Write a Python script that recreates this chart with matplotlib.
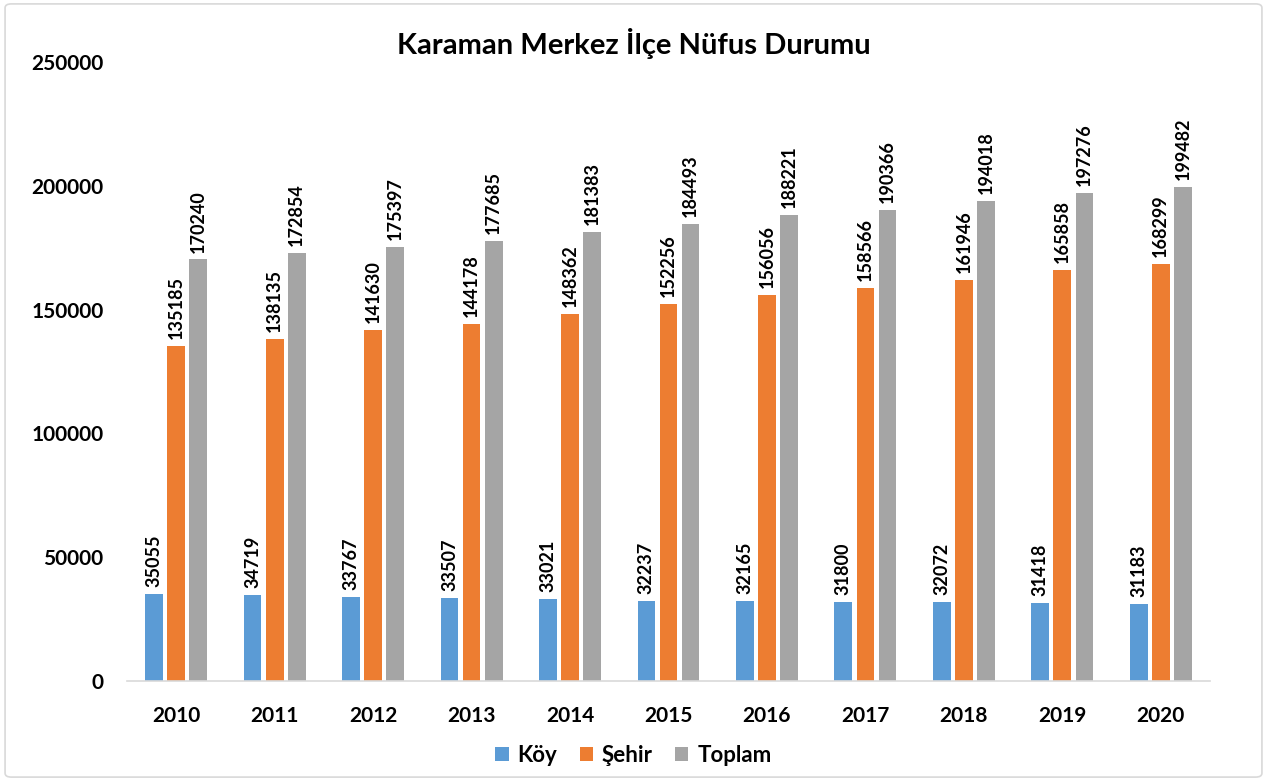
import matplotlib
matplotlib.use("Agg")
import matplotlib.pyplot as plt
from matplotlib.patches import FancyBboxPatch
import numpy as np

years = ["2010", "2011", "2012", "2013", "2014", "2015", "2016", "2017", "2018", "2019", "2020"]
koy = [35055, 34719, 33767, 33507, 33021, 32237, 32165, 31800, 32072, 31418, 31183]
sehir = [135185, 138135, 141630, 144178, 148362, 152256, 156056, 158566, 161946, 165858, 168299]
toplam = [170240, 172854, 175397, 177685, 181383, 184493, 188221, 190366, 194018, 197276, 199482]
series_names = ["Köy", "Şehir", "Toplam"]
colors = ["#5B9BD5", "#ED7D31", "#A5A5A5"]

plt.rcParams['font.family'] = ['Lato', 'DejaVu Sans']
plt.rcParams['font.weight'] = 'bold'

fig = plt.figure(figsize=(12.67, 7.81), dpi=100)
border = FancyBboxPatch((0.004, 0.005), 0.992, 0.99, boxstyle="round,pad=0,rounding_size=0.005",
                        transform=fig.transFigure, fill=False, edgecolor="#D9D9D9", linewidth=1.2)
fig.patches.append(border)

ax = fig.add_axes([127/1267, 100/781, (1210-127)/1267, (681-62)/781])
x = np.arange(len(years))
w = 0.18
off = 0.224
for i, (vals, name, c) in enumerate(zip([koy, sehir, toplam], series_names, colors)):
    xs = x + (i - 1) * off
    bars = ax.bar(xs, vals, width=w, color=c, label=name, zorder=2)
    for b, v in zip(bars, vals):
        ax.annotate(str(v), (b.get_x() + b.get_width() / 2, v), xytext=(0, 5),
                    textcoords="offset points", rotation=90, ha="center", va="bottom",
                    fontsize=13, fontweight="bold")

ax.set_xlim(-0.5, 10.5)
ax.set_ylim(0, 250000)
ax.set_yticks([0, 50000, 100000, 150000, 200000, 250000])
ax.set_yticklabels(["0", "50000", "100000", "150000", "200000", "250000"])
ax.set_xticks(x)
ax.set_xticklabels(years)
ax.tick_params(axis="both", length=0, labelsize=15)
ax.tick_params(axis="x", pad=18)
ax.tick_params(axis="y", pad=17)
for lab in ax.get_xticklabels() + ax.get_yticklabels():
    lab.set_fontweight("bold")
for s in ["top", "right", "left"]:
    ax.spines[s].set_visible(False)
ax.spines["bottom"].set_color("#D9D9D9")
ax.spines["bottom"].set_linewidth(1.2)

fig.suptitle("Karaman Merkez İlçe Nüfus Durumu", x=0.5, y=0.964, fontsize=21, fontweight="bold")

leg = fig.legend(loc="center", bbox_to_anchor=(0.5, 0.033), ncol=3, frameon=False,
                 fontsize=16, handlelength=0.6, handleheight=0.6, handletextpad=0.4, columnspacing=1.0)
for t in leg.get_texts():
    t.set_fontweight("bold")

fig.savefig("out.png", dpi=100)
